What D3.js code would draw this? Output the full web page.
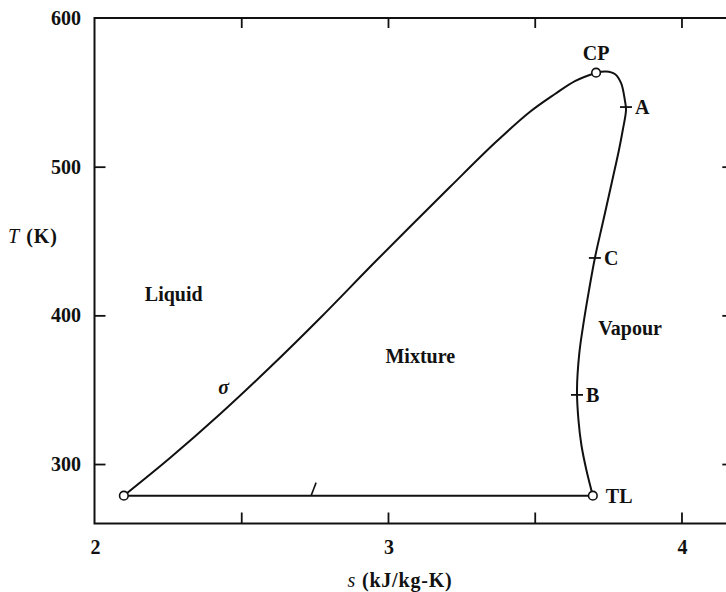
<!DOCTYPE html>
<html>
<head>
<meta charset="utf-8">
<script src="https://cdn.jsdelivr.net/npm/d3@7"></script>
<style>
  body { margin: 0; background: #fff; }
  svg { display: block; }
  text { font-family: "Liberation Serif", "DejaVu Serif", serif; font-weight: bold; font-size: 20px; fill: #111; }
</style>
</head>
<body>
<svg id="chart" width="726" height="592"></svg>
<script>
// tick values
var sTicks = [2, 3, 4];
var sMinorTicks = [2.5, 3.5];
var tTicks = [300, 400, 500, 600];

// saturated liquid line (sigma), triple point -> critical point
var liquidS = [2.10, 2.257, 2.428, 2.599, 2.769, 2.962, 3.211, 3.364, 3.483, 3.569, 3.637, 3.709];
var liquidT = [278.7, 304.0, 333.6, 365.2, 398.2, 437.2, 486.3, 515.9, 536.8, 548.9, 557.6, 563.2];

// saturated vapour line, critical point -> TL
var vapourS = [3.709, 3.743, 3.773, 3.794, 3.807, 3.811, 3.800, 3.787, 3.763, 3.734, 3.705, 3.685, 3.668, 3.652, 3.644, 3.649, 3.659, 3.676, 3.698];
var vapourT = [563.2, 564.0, 562.3, 556.3, 544.8, 538.1, 524.7, 511.2, 489.7, 464.1, 438.6, 417.0, 396.9, 374.7, 349.8, 329.6, 312.8, 296.0, 278.7];

// marked states on the vapour line
var markNames = ["A", "C", "B"];
var markS = [3.811, 3.705, 3.644];
var markT = [540.1, 438.6, 346.5];

// circled points
var pointNames = ["", "CP", "TL"];
var pointS = [2.10, 3.709, 3.698];
var pointT = [278.7, 563.2, 278.7];

// region labels
var regionNames = ["Liquid", "Mixture", "Vapour"];
var regionS = [2.27, 3.11, 3.825];
var regionT = [414, 372, 391];

// small stroke on the triple line
var lStrokeS = [2.738, 2.755];
var lStrokeT = [278.7, 287.5];

var svg = d3.select("#chart");

var x = d3.scaleLinear().domain([2, 4.18]).range([94.5, 734.3]);
var y = d3.scaleLinear().domain([260, 600]).range([523.5, 18]);

// frame
svg.append("rect")
    .attr("x", x(2))
    .attr("y", y(600))
    .attr("width", x(4.18) - x(2))
    .attr("height", y(260) - y(600))
    .attr("fill", "none")
    .attr("stroke", "#111")
    .attr("stroke-width", 2);

var allS = sTicks.concat(sMinorTicks).filter(function(d){ return d > 2; });
var innerT = tTicks.filter(function(d){ return d < 600; });

// axes with inward ticks
svg.append("g")
    .attr("transform", "translate(0," + y(260) + ")")
    .call(d3.axisTop(x).tickValues(allS).tickSize(11).tickFormat(""))
    .call(function(g){ g.select(".domain").remove(); });
svg.append("g")
    .attr("transform", "translate(0," + y(600) + ")")
    .call(d3.axisBottom(x).tickValues(allS).tickSize(10).tickFormat(""))
    .call(function(g){ g.select(".domain").remove(); });
svg.append("g")
    .attr("transform", "translate(" + x(2) + ",0)")
    .call(d3.axisRight(y).tickValues(innerT).tickSize(11).tickFormat(""))
    .call(function(g){ g.select(".domain").remove(); });
svg.append("g")
    .attr("transform", "translate(" + x(4.18) + ",0)")
    .call(d3.axisLeft(y).tickValues(innerT).tickSize(12).tickFormat(""))
    .call(function(g){ g.select(".domain").remove(); });
svg.selectAll(".tick line").attr("stroke", "#111").attr("stroke-width", 1.8);

// tick labels
svg.selectAll("text.sLabel")
    .data(sTicks)
    .enter()
    .append("text")
    .attr("class", "sLabel")
    .attr("x", function(d){ return x(d) + 1; })
    .attr("y", 554)
    .attr("text-anchor", "middle")
    .text(function(d){ return d; });

svg.selectAll("text.tLabel")
    .data(tTicks)
    .enter()
    .append("text")
    .attr("class", "tLabel")
    .attr("x", 81)
    .attr("y", function(d){ return y(d) + 7; })
    .attr("text-anchor", "end")
    .text(function(d){ return d; });

// axis titles
var sTitle = svg.append("text").attr("x", 400).attr("y", 587)
    .attr("text-anchor", "middle").attr("letter-spacing", "0.8px");
sTitle.append("tspan").attr("font-style", "italic").attr("font-weight", "normal").text("s");
sTitle.append("tspan").text(" (kJ/kg-K)");

var tTitle = svg.append("text").attr("x", 8).attr("y", 243).attr("letter-spacing", "1px");
tTitle.append("tspan").attr("font-style", "italic").attr("font-weight", "normal").text("T");
tTitle.append("tspan").text(" (K)");

// curves
var line = d3.line()
    .x(function(d){ return x(d[0]); })
    .y(function(d){ return y(d[1]); })
    .curve(d3.curveCatmullRom.alpha(0.5));

var liquidPts = liquidS.map(function(d, i){ return [d, liquidT[i]]; });
var vapourPts = vapourS.map(function(d, i){ return [d, vapourT[i]]; });

svg.append("path").attr("d", line(liquidPts))
    .attr("fill", "none").attr("stroke", "#111").attr("stroke-width", 2);
svg.append("path").attr("d", line(vapourPts))
    .attr("fill", "none").attr("stroke", "#111").attr("stroke-width", 2);

// triple line
svg.append("line")
    .attr("x1", x(pointS[0])).attr("y1", y(pointT[0]))
    .attr("x2", x(pointS[2])).attr("y2", y(pointT[2]))
    .attr("stroke", "#111").attr("stroke-width", 2);
svg.append("line")
    .attr("x1", x(lStrokeS[0])).attr("y1", y(lStrokeT[0]))
    .attr("x2", x(lStrokeS[1])).attr("y2", y(lStrokeT[1]))
    .attr("stroke", "#111").attr("stroke-width", 1.6);

// marks A, C, B
svg.selectAll("line.mark")
    .data(markNames)
    .enter()
    .append("line")
    .attr("class", "mark")
    .attr("x1", function(d, i){ return x(markS[i]) - 6; })
    .attr("x2", function(d, i){ return x(markS[i]) + 6; })
    .attr("y1", function(d, i){ return y(markT[i]); })
    .attr("y2", function(d, i){ return y(markT[i]); })
    .attr("stroke", "#111").attr("stroke-width", 1.8);

svg.selectAll("text.markLabel")
    .data(markNames)
    .enter()
    .append("text")
    .attr("class", "markLabel")
    .attr("x", function(d, i){ return x(markS[i]) + 9; })
    .attr("y", function(d, i){ return y(markT[i]) + 7; })
    .text(function(d){ return d; });

// circled points
svg.selectAll("circle")
    .data(pointNames)
    .enter()
    .append("circle")
    .attr("cx", function(d, i){ return x(pointS[i]); })
    .attr("cy", function(d, i){ return y(pointT[i]); })
    .attr("r", 4.3)
    .attr("fill", "#fff")
    .attr("stroke", "#111")
    .attr("stroke-width", 1.6);

svg.append("text")
    .attr("x", x(pointS[1]))
    .attr("y", y(pointT[1]) - 13)
    .attr("text-anchor", "middle")
    .text(pointNames[1]);
svg.append("text")
    .attr("x", x(pointS[2]) + 13)
    .attr("y", y(pointT[2]) + 7)
    .text(pointNames[2]);

// region labels
svg.selectAll("text.region")
    .data(regionNames)
    .enter()
    .append("text")
    .attr("class", "region")
    .attr("x", function(d, i){ return x(regionS[i]); })
    .attr("y", function(d, i){ return y(regionT[i]) + 6; })
    .attr("text-anchor", "middle")
    .text(function(d){ return d; });

// sigma label
svg.append("text")
    .attr("x", x(2.44))
    .attr("y", y(350.6) + 5)
    .attr("text-anchor", "middle")
    .attr("font-style", "italic")
    .attr("font-weight", "normal")
    .text("σ");
</script>
</body>
</html>
